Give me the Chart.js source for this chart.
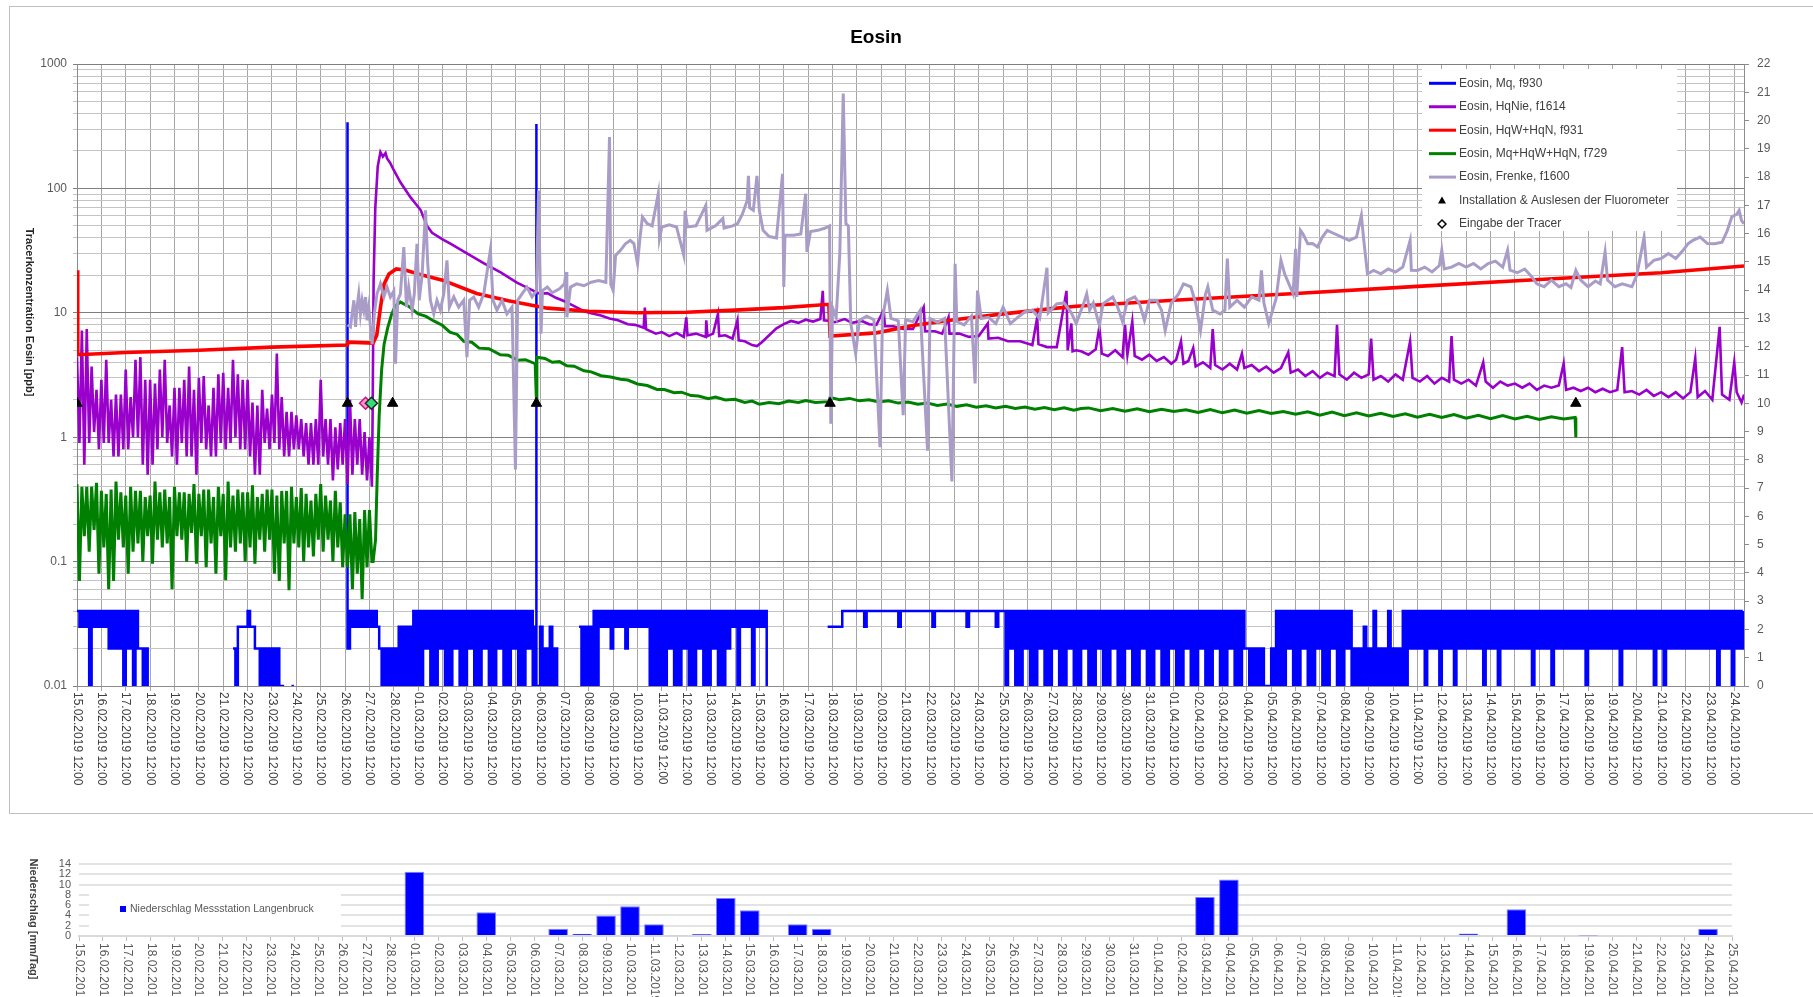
<!DOCTYPE html>
<html>
<head>
<meta charset="utf-8">
<script src="https://cdn.jsdelivr.net/npm/chart.js@4.4.0/dist/chart.umd.min.js"></script>
<style>
  html, body { margin: 0; padding: 0; background: #fff; }
  body { width: 1813px; height: 997px; position: relative; overflow: hidden; }
  #frame { position: absolute; left: 9px; top: 6px; width: 1810px; height: 806px; border: 1px solid #bfbfbf; }
  #mainChart { position: absolute; left: 0; top: 0; }
  #rainChart { position: absolute; left: 0; top: 840px; }
</style>
</head>
<body>
<div id="frame"></div>
<canvas id="mainChart" width="1813" height="820"></canvas>
<canvas id="rainChart" width="1813" height="157"></canvas>
<script>
// day labels, 15.02.2019 .. 25.04.2019 (x = days after 15.02.2019 12:00)
const dayNames = ['15.02','16.02','17.02','18.02','19.02','20.02','21.02','22.02','23.02','24.02','25.02','26.02','27.02','28.02',
  '01.03','02.03','03.03','04.03','05.03','06.03','07.03','08.03','09.03','10.03','11.03','12.03','13.03','14.03','15.03','16.03',
  '17.03','18.03','19.03','20.03','21.03','22.03','23.03','24.03','25.03','26.03','27.03','28.03','29.03','30.03','31.03',
  '01.04','02.04','03.04','04.04','05.04','06.04','07.04','08.04','09.04','10.04','11.04','12.04','13.04','14.04','15.04',
  '16.04','17.04','18.04','19.04','20.04','21.04','22.04','23.04','24.04','25.04'];

// daily rain, mm/Tag (one per dayNames entry)
const rainMm = [0,0,0,0,0,0,0,0,0,0,0,0,0,0,
  12.5,0,0,4.6,0,0,1.4,0.45,4.0,5.8,2.3,0.15,0.4,7.4,5.0,0,2.3,1.4,
  0,0,0,0,0,0,0,0,0,0,0,0,0,0,0,
  7.6,11.0,0,0,0,0,0,0,0,0,0,0.5,0,5.2,0,0,0.12,0,0,0,0,1.4,0];

// Eosin Mq f930: per 0.2 d the high and low reading in 0.01 ppb (43 = 0.04/0.03, 0 = no signal)
const mqStep = 0.2;
const mqBands = [
  43,43,41,43,43, 43,42,42,42,41, 42,41,42,21,21, 0,0,0,0,0, 0,0,0,0,0, 0,0,0,0,0, 0,0,21,33,33, 43,32,21,21,21,
  21,21,11,0,11, 0,0,0,0,0, 0,0,0,0,0, 0,43,43,43,43, 43,43,21,21,21, 21,31,31,31,41, 41,42,41,41,42, 41,41,42,41,41,
  42,41,41,42,41, 41,42,41,41,42, 41,41,42,41,31, 31,21,31,21,0, 0,0,0,31,31, 31,41,43,43,42, 43,43,42,43,43,
  43,43,41,41,41, 41,42,41,41,42, 41,41,42,41,41, 42,41,41,42,43, 41,43,43,41,43, 43,41,0,0,0, 0,0,0,0,0,
  0,0,0,0,33, 33,33,44,44,44, 44,43,44,44,44, 44,44,44,43,44, 44,44,44,44,44, 43,44,44,44,44, 44,44,43,44,44,
  44,44,44,43,44, 41,42,41,41,42, 41,41,42,41,41, 42,41,41,42,41, 41,42,41,41,42, 41,41,42,41,41, 42,41,41,42,41,
  41,42,41,41,42, 41,41,42,41,41, 42,41,41,42,41, 41,42,41,41,42, 21,21,21,21,11, 21,41,41,42,41, 41,42,41,41,42,
  41,41,42,41,41, 42,41,21,21,31, 21,41,21,21,41, 21,21,41,42,42, 42,41,42,42,41, 42,42,41,42,42, 42,42,42,41,42,
  42,41,42,42,42, 42,42,42,41,42, 42,42,41,42,42, 42,42,42,42,41, 42,42,42,42,42, 42,41,42,42,42, 42,42,42,41,42,
  41,42,42,42,42, 42,42,42,42,42, 42,41,42,42,41, 42,42,42];
// [day, peak ppb, level after (0.01 ppb)]
const mqSpikes = [[11.1, 340, 2], [18.85, 330, 1]];

// Eosin HqNie f1614 before the tracer input: per 0.2 d [high, low] ppb
const bandStep = 0.2;
const hqNieEarly = [[4.4,0.9],[7.2,0.6],[7.4,0.9],[3.7,1.1],[2.4,0.8],[2.9,0.9],[4.2,0.9],[2.0,0.7],[2.2,0.7],[2.2,0.8],
  [3.5,0.8],[2.1,1.0],[4.2,1.0],[4.4,0.6],[2.9,0.5],[2.9,0.6],[2.7,0.8],[3.5,1.0],[4.2,0.9],[1.8,0.7],
  [2.5,0.6],[2.5,0.9],[2.9,0.7],[3.7,0.7],[2.4,0.5],[3.0,0.9],[3.1,0.8],[1.8,0.7],[2.5,0.7],[3.2,0.9],
  [3.3,0.8],[2.5,0.9],[4.2,1.0],[3.2,0.8],[2.9,0.8],[2.9,0.7],[1.9,0.5],[1.8,0.5],[2.4,0.9],[1.7,0.8],
  [2.2,0.9],[4.7,0.8],[2.1,0.7],[1.6,0.7],[1.6,0.8],[1.5,0.8],[1.4,0.7],[1.3,0.6],[1.3,0.6],[1.4,0.6],
  [2.9,0.7],[1.4,0.6],[1.4,0.45],[1.2,0.55],[1.3,0.6],[1.4,0.42],[2.0,0.5],[1.4,0.6],[1.4,0.5],[1.1,0.45],[1.0,0.40]];
// Eosin HqNie f1614 from the rise on [day, ppb]
const hqNie = [[12.13,1.55],[12.17,18],[12.24,70],[12.34,150],[12.45,196],[12.55,180],
  [12.66,192],[12.72,175],[12.85,160],[13.0,140],[13.27,112],[13.68,85],[14.1,67],[14.36,50],[14.57,44],[15.0,39],
  [15.32,36],[16.0,30],[16.7,25],[17.4,21],[18.05,17.5],[18.74,15],[19.0,14.2],[19.3,14.4],[19.65,13.2],[20.0,12.4],
  [20.4,11.3],[20.8,10.3],[21.1,9.9],[21.5,9.5],[21.85,9.0],[22.2,8.7],[22.6,8.1],[22.9,8.0],[23.25,7.6],[23.3,11.0],
  [23.35,7.4],[23.75,6.8],[24.0,7.0],[24.3,6.5],[24.6,6.9],[24.9,6.4],[25.0,9.2],[25.05,6.6],[25.4,6.8],[25.8,6.4],
  [25.82,8.7],[25.87,6.5],[26.1,6.8],[26.3,9.8],[26.35,6.5],[26.6,6.6],[26.9,6.2],[27.1,8.7],[27.15,6.0],[27.4,5.9],
  [27.7,5.5],[27.9,5.4],[28.1,5.8],[28.4,6.6],[28.7,7.5],[29.0,8.1],[29.3,8.6],[29.6,8.3],[29.9,8.8],[30.2,8.5],
  [30.5,8.9],[30.6,15],[30.65,8.7],[30.9,8.6],[31.1,8.4],[31.5,8.9],[31.8,8.3],[32.2,8.6],[32.5,8.1],[32.8,8.0],
  [33.1,10.5],[33.15,7.8],[33.5,7.8],[33.9,7.4],[34.3,7.4],[34.74,11.1],[34.8,7.1],[35.2,7.1],[35.5,6.8],[35.76,9.2],
  [35.8,6.8],[36.2,6.8],[36.6,6.4],[37.0,6.5],[37.37,8.2],[37.4,6.2],[37.8,6.3],[38.2,5.9],[38.7,5.9],[39.2,5.5],
  [39.4,9.2],[39.45,5.6],[39.8,5.3],[40.2,5.3],[40.6,15],[40.65,5.0],[40.8,8.2],[40.85,4.9],[41.0,5.0],[41.2,4.9],
  [41.5,4.6],[41.8,5.1],[41.95,7.7],[42.05,4.7],[42.3,4.5],[42.6,5.0],[42.9,4.4],[43.0,8.0],[43.1,4.6],[43.3,8.5],
  [43.4,4.5],[43.7,4.2],[44.0,4.6],[44.3,4.1],[44.6,4.4],[44.9,3.9],[45.1,4.2],[45.3,5.9],[45.4,3.9],[45.6,4.1],
  [45.8,5.2],[45.9,3.7],[46.2,4.0],[46.5,3.6],[46.6,7.4],[46.7,3.8],[47.0,3.5],[47.3,3.9],[47.6,3.5],[47.8,4.7],
  [47.9,3.6],[48.2,3.8],[48.5,3.4],[48.8,3.7],[49.1,3.3],[49.4,3.6],[49.7,4.8],[49.8,3.3],[50.1,3.5],[50.4,3.1],
  [50.7,3.4],[51.0,3.0],[51.3,3.3],[51.6,3.1],[51.7,8.0],[51.8,3.2],[52.1,2.9],[52.4,3.3],[52.7,3.0],[53.0,3.2],
  [53.1,6.2],[53.2,2.9],[53.5,3.1],[53.8,2.8],[54.1,3.2],[54.4,2.9],[54.7,5.9],[54.8,3.0],[55.1,2.8],[55.4,3.1],
  [55.7,2.7],[56.0,3.0],[56.3,2.8],[56.4,6.5],[56.5,2.9],[56.8,2.7],[57.1,2.9],[57.4,2.6],[57.7,4.0],[57.8,2.8],
  [58.1,2.5],[58.4,2.8],[58.7,2.6],[59.0,2.7],[59.3,2.5],[59.6,2.7],[59.9,2.4],[60.2,2.6],[60.5,2.5],[60.8,2.6],
  [61.0,3.9],[61.1,2.4],[61.4,2.5],[61.7,2.35],[62.0,2.5],[62.3,2.3],[62.6,2.45],[62.9,2.3],[63.2,2.4],[63.4,5.3],
  [63.5,2.3],[63.8,2.35],[64.1,2.2],[64.4,2.4],[64.7,2.15],[65.0,2.3],[65.3,2.1],[65.6,2.3],[65.9,2.05],[66.2,2.3],
  [66.4,4.3],[66.5,2.1],[66.8,2.35],[67.1,2.0],[67.4,7.7],[67.5,2.2],[67.8,2.0],[68.0,4.0],[68.1,2.3],[68.3,1.9],[68.4,2.2]];

// Eosin HqW+HqN f931 [day, ppb]
const hqWHqN = [[0,22],[0.03,4.6],[2,4.8],[5,5.0],[8,5.3],[11.1,5.5],[11.12,5.8],[12.15,5.7],[12.3,6.6],[12.45,11],
  [12.6,17],[12.8,20.5],[13.1,22.5],[13.5,22],[14.0,20.5],[15.0,18.3],[16.4,14.3],[17.7,12.5],[19.3,10.9],[21,10.3],
  [23,10.0],[25,10.1],[27,10.5],[29,11.0],[30.85,11.7],[30.9,6.5],[32.8,6.9],[34.3,7.9],[36,8.8],[38,9.8],
  [40,10.8],[41,11.3],[45,12.6],[50,14.3],[55,16.3],[60,18.5],[65,21.0],[68.4,23.8]];

// Eosin Mq+HqW+HqN f729 before the tracer input: per 0.2 d [high, low] ppb
const mqHqWHqNEarly = [[0.42,0.07],[0.40,0.16],[0.40,0.12],[0.40,0.18],[0.43,0.08],[0.37,0.13],[0.35,0.06],[0.38,0.07],[0.44,0.15],[0.36,0.13],
  [0.34,0.08],[0.40,0.12],[0.37,0.14],[0.37,0.10],[0.33,0.16],[0.34,0.096],[0.44,0.15],[0.36,0.13],[0.38,0.14],[0.33,0.06],
  [0.40,0.16],[0.36,0.15],[0.36,0.10],[0.35,0.17],[0.42,0.096],[0.35,0.16],[0.38,0.09],[0.38,0.14],[0.33,0.08],[0.40,0.16],
  [0.35,0.071],[0.44,0.13],[0.34,0.12],[0.38,0.14],[0.36,0.10],[0.36,0.13],[0.41,0.096],[0.33,0.15],[0.35,0.12],[0.38,0.15],
  [0.38,0.08],[0.34,0.07],[0.37,0.14],[0.37,0.059],[0.40,0.14],[0.33,0.13],[0.39,0.10],[0.35,0.13],[0.31,0.11],[0.35,0.15],
  [0.42,0.12],[0.34,0.15],[0.31,0.10],[0.37,0.13],[0.30,0.09],[0.24,0.09],[0.24,0.06],[0.25,0.08],[0.22,0.05],[0.26,0.09],[0.26,0.10]];
// Eosin Mq+HqW+HqN f729 from the rise on [day, ppb]
const mqHqWHqN = [[12.15,0.10],[12.25,0.15],[12.32,0.5],
  [12.4,1.5],[12.5,3.5],[12.6,5.6],[12.75,7.6],[12.9,9.6],[13.05,11.3],[13.27,12.2],[13.6,11.3],[14.0,9.8],[14.3,9.4],
  [14.64,8.6],[15.0,7.9],[15.3,7.0],[15.6,6.7],[15.87,5.9],[16.2,5.8],[16.5,5.2],[16.9,5.15],[17.37,4.6],[17.7,4.55],
  [18.1,4.15],[18.4,4.2],[18.8,3.9],[18.85,2.0],[18.87,4.4],[19.2,4.3],[19.5,4.0],[19.8,4.05],[20.1,3.75],[20.4,3.72],
  [20.8,3.42],[21.1,3.35],[21.5,3.12],[21.9,3.05],[22.3,2.92],[22.6,2.88],[23.0,2.68],[23.4,2.6],[23.8,2.42],[24.1,2.42],
  [24.5,2.28],[24.8,2.3],[25.2,2.16],[25.5,2.14],[25.9,2.04],[26.2,2.1],[26.6,1.99],[27.0,2.02],[27.4,1.9],[27.7,1.95],
  [28.0,1.84],[28.4,1.9],[28.8,1.86],[29.2,1.95],[29.6,1.9],[29.9,1.97],[30.3,1.9],[30.85,1.93],[30.9,2.08],[31.3,2.0],
  [31.7,2.05],[32.1,1.96],[32.5,2.0],[32.9,1.92],[33.3,1.96],[33.7,1.88],[34.1,1.92],[34.5,1.84],[34.9,1.88],[35.3,1.8],
  [35.7,1.85],[36.1,1.77],[36.5,1.82],[36.9,1.74],[37.3,1.79],[37.7,1.72],[38.1,1.77],[38.5,1.7],[38.9,1.75],[39.3,1.68],
  [39.7,1.73],[40.1,1.66],[40.5,1.72],[40.9,1.65],[41.2,1.7],[41.5,1.72],[42,1.63],[42.5,1.70],[43,1.62],[43.5,1.69],
  [44,1.60],[44.5,1.68],[45,1.61],[45.5,1.66],[46,1.58],[46.5,1.67],[47,1.57],[47.5,1.65],[48,1.56],[48.5,1.64],
  [49,1.55],[49.5,1.61],[50,1.53],[50.5,1.60],[51,1.50],[51.5,1.59],[52,1.49],[52.5,1.57],[53,1.48],[53.5,1.56],
  [54,1.47],[54.5,1.54],[55,1.45],[55.5,1.53],[56,1.44],[56.5,1.52],[57,1.42],[57.5,1.50],[58,1.41],[58.5,1.49],
  [59,1.40],[59.5,1.47],[60,1.39],[60.5,1.46],[61,1.40],[61.47,1.44],[61.5,1.0]];

// Eosin Frenke f1600 [day, ppb]
const frenke = [[11.1,8.0],[11.22,7.7],[11.36,12.6],[11.43,7.7],[11.49,11.1],[11.56,14.2],[11.63,9.8],[11.7,12.6],[11.77,10.5],[11.84,13.4],
  [11.9,8.7],[11.97,11.1],[12.04,7.7],[12.11,5.6],[12.2,9.8],[12.31,14.2],[12.45,17.1],[12.59,13.4],[12.72,16.1],[12.86,13.4],
  [13.0,15.0],[13.07,3.9],[13.16,12.6],[13.27,14.2],[13.41,33.8],[13.52,11.1],[13.61,16.1],[13.75,10.5],[13.84,14.2],[13.95,35.9],
  [14.04,12.6],[14.16,20],[14.3,66.6],[14.39,25],[14.5,12.6],[14.64,9.8],[14.77,12.6],[14.91,10.5],[15.05,14.2],[15.18,26.4],
  [15.28,11.1],[15.46,13.4],[15.66,11.1],[15.87,12.6],[16.0,4.4],[16.11,12.6],[16.28,13.4],[16.48,11.1],[16.69,14.2],[16.96,31.8],
  [17.07,12.6],[17.23,10.5],[17.44,12.6],[17.64,9.8],[17.85,11.1],[17.99,0.55],[18.08,12.6],[18.26,14.2],[18.46,16.1],[18.67,13.4],
  [18.85,15],[18.94,96],[19.04,6.8],[19.1,15.1],[19.3,16.1],[19.5,14.5],[19.8,15.6],[20.0,17.1],[20.07,21.3],[20.1,9.2],
  [20.25,16.1],[20.5,17.1],[20.8,16.5],[21.1,17.6],[21.4,18.2],[21.7,17.6],[21.85,259],[21.9,17],[22.0,15.1],[22.1,28.9],
  [22.3,31.8],[22.5,35.9],[22.7,38.2],[22.85,36],[23.0,24.8],[23.1,40],[23.2,58.9],[23.4,52],[23.6,50],[23.85,90.6],
  [23.9,39.4],[24.0,49],[24.3,51],[24.6,49],[24.9,28.9],[24.95,66],[25.05,49],[25.4,50],[25.8,73],[25.85,46],
  [26.2,50],[26.5,57.2],[26.55,48],[26.9,50],[27.1,52],[27.3,62],[27.5,80],[27.55,126],[27.6,70],[27.75,66.6],
  [27.9,126],[28.0,66],[28.15,46],[28.4,41],[28.7,40],[28.95,131],[29.0,16.1],[29.05,42],[29.4,42],[29.7,43],
  [29.9,90.6],[29.95,30.8],[30.1,45],[30.4,46],[30.7,48],[30.88,50],[30.93,1.28],[31.0,11],[31.15,9.2],[31.3,30],
  [31.44,580],[31.55,52],[31.65,50],[31.75,8.2],[31.95,4.7],[32.1,8.7],[32.4,9.4],[32.7,8.8],[32.95,0.83],[33.05,9.0],
  [33.25,15.1],[33.4,9.0],[33.7,8.6],[33.9,1.5],[34.0,8.8],[34.3,8.5],[34.6,10.5],[34.9,0.78],[35.0,9.0],[35.3,8.4],
  [35.6,9.0],[35.9,0.44],[36.03,24.8],[36.1,8.5],[36.4,8.0],[36.7,9.4],[36.85,2.7],[36.95,15.1],[37.1,9.0],[37.4,9.2],
  [37.7,8.2],[38.0,11.1],[38.3,8.2],[38.6,9.2],[38.9,10.2],[39.2,10.5],[39.5,9.0],[39.8,23],[39.85,10],[40.2,11.8],
  [40.5,12],[40.8,10],[41.0,8.2],[41.3,11.8],[41.43,14.2],[41.55,10.5],[41.7,12],[41.95,7.9],[42.1,11.8],[42.3,12.6],
  [42.5,13.4],[42.7,11.1],[42.9,8.5],[43.1,12.6],[43.4,13.4],[43.6,11.8],[43.8,8.7],[44.0,12.6],[44.3,12.6],[44.5,10.5],
  [44.65,7.2],[44.9,12],[45.2,14.2],[45.4,17.1],[45.7,16.2],[45.9,12],[46.1,7.2],[46.3,14],[46.4,16.2],[46.6,10.5],
  [46.9,9.8],[47.1,10.5],[47.2,27.3],[47.3,11.1],[47.6,12.6],[47.9,11.1],[48.2,13.4],[48.5,12.6],[48.6,21.9],[48.7,12],
  [48.9,8.2],[49.2,13],[49.4,26.4],[49.55,20.6],[49.9,14.2],[50.0,32.7],[50.05,13.4],[50.2,46],[50.3,43.2],[50.5,35.9],
  [50.7,36],[50.9,33.8],[51.1,40.6],[51.3,46],[51.6,43.2],[51.9,40.6],[52.2,38.2],[52.5,40.6],[52.7,60.7],[52.8,38],
  [52.95,20.6],[53.2,21.9],[53.5,20.6],[53.8,22.5],[54.1,21.3],[54.4,23.3],[54.7,38.2],[54.75,22],[55.0,21.9],[55.3,23.3],
  [55.6,21.3],[55.9,24],[56.0,31.8],[56.1,22.5],[56.4,23.3],[56.7,24.9],[57.0,23.3],[57.3,24.9],[57.6,22.5],[57.9,24.9],
  [58.2,26],[58.5,23.3],[58.7,31.8],[58.8,22],[59.1,21],[59.4,22.5],[59.7,19.4],[59.9,17.1],[60.2,16.2],[60.5,18.3],
  [60.8,16.2],[61.1,17.1],[61.3,16],[61.5,21.9],[61.7,18.3],[62.0,16.2],[62.3,18],[62.5,17.1],[62.7,30.8],[62.8,18.3],
  [63.1,16.2],[63.4,17.1],[63.8,16.2],[64.0,20],[64.3,40.6],[64.4,23.3],[64.7,26.4],[65.0,27.3],[65.3,29.9],[65.6,27.3],
  [65.9,31.8],[66.1,35.9],[66.3,38.2],[66.6,40.6],[66.9,36],[67.2,35.9],[67.5,37],[67.7,45],[67.9,59],[68.1,62],
  [68.2,66.6],[68.3,55],[68.4,52]];

// events, plotted on the right axis at level 10
const installDays = [0, 11.1, 12.95, 18.85, 30.9, 61.5];
const tracerDays = [11.84, 12.08];
const markerLevel = 10;

const ppbDecades = [0.01, 0.1, 1, 10, 100, 1000];

const FONT = '"Liberation Sans", Arial, sans-serif';
Chart.defaults.font.family = FONT;

function toPoints(pairs) {
  return pairs.map(p => ({ x: p[0], y: p[1] }));
}

// [high, low] per bin -> two points inside each bin
function bandPoints(bands, step) {
  var pts = [];
  bands.forEach((b, i) => {
    pts.push({ x: Math.round(i * step * 100) / 100, y: b[0] });
    pts.push({ x: Math.round((i + 0.5) * step * 100) / 100, y: b[1] });
  });
  return pts;
}

// Mq points: high/low reading per bin plus the two short peaks
var mqPoints = [];
mqBands.forEach((code, i) => {
  const hi = Math.floor(code / 10), lo = code % 10;
  mqPoints.push({ x: Math.round(i * mqStep * 100) / 100, y: code ? hi / 100 : null });
  mqPoints.push({ x: Math.round((i + 0.5) * mqStep * 100) / 100, y: code ? lo / 100 : null });
});
mqSpikes.forEach(s => {
  mqPoints.push({ x: s[0], y: s[1] });
  mqPoints.push({ x: s[0], y: s[2] / 100 });
});
mqPoints.sort((a, b) => a.x - b.x);

function isDecade(v) {
  return ppbDecades.some(d => Math.abs(v / d - 1) < 1e-6);
}

// minor log grid: 1..9 per decade
var logTicks = [];
ppbDecades.slice(0, -1).forEach(d => {
  for (var m = 1; m <= 9; m++) logTicks.push(Math.round(d * m * 1e6) / 1e6);
});
logTicks.push(1000);

const upperDecor = {
  id: 'upperDecor',
  afterDraw(chart) {
    const ctx = chart.ctx;
    const area = chart.chartArea;
    const xs = chart.scales.x;
    ctx.save();

    // title
    ctx.fillStyle = '#000';
    ctx.font = 'bold 19px ' + FONT;
    ctx.textAlign = 'center';
    ctx.textBaseline = 'middle';
    ctx.fillText('Eosin', 876, 38);

    // left axis title, reads top to bottom
    ctx.save();
    ctx.translate(29, 312);
    ctx.rotate(Math.PI / 2);
    ctx.font = 'bold 11px ' + FONT;
    ctx.fillStyle = '#262626';
    ctx.fillText('Tracerkonzentration Eosin [ppb]', 0, 0);
    ctx.restore();

    // date labels, turned clockwise
    ctx.font = '12px ' + FONT;
    ctx.fillStyle = '#404040';
    ctx.textAlign = 'left';
    for (var i = 0; i <= 68; i++) {
      ctx.save();
      ctx.translate(xs.getPixelForValue(i), area.bottom + 6);
      ctx.rotate(Math.PI / 2);
      ctx.fillText(dayNames[i] + '.2019 12:00', 0, 0);
      ctx.restore();
    }

    // legend box
    ctx.fillStyle = '#fff';
    ctx.fillRect(1422, 69, 255, 162);
    chart.data.datasets.forEach((ds, i) => {
      const y = 83.3 + i * 23.45;
      if (i < 5) {
        ctx.strokeStyle = ds.borderColor;
        ctx.lineWidth = 3;
        ctx.beginPath();
        ctx.moveTo(1429, y);
        ctx.lineTo(1456, y);
        ctx.stroke();
      } else if (i === 5) {
        ctx.fillStyle = '#000';
        ctx.beginPath();
        ctx.moveTo(1442, y - 4);
        ctx.lineTo(1446, y + 3);
        ctx.lineTo(1438, y + 3);
        ctx.closePath();
        ctx.fill();
      } else {
        ctx.fillStyle = '#fff';
        ctx.strokeStyle = '#000';
        ctx.lineWidth = 1.5;
        ctx.beginPath();
        ctx.moveTo(1442, y - 4);
        ctx.lineTo(1446, y);
        ctx.lineTo(1442, y + 4);
        ctx.lineTo(1438, y);
        ctx.closePath();
        ctx.fill();
        ctx.stroke();
      }
      ctx.fillStyle = '#404040';
      ctx.font = '12px ' + FONT;
      ctx.textAlign = 'left';
      ctx.textBaseline = 'middle';
      ctx.fillText(ds.label, 1459, y);
    });
    ctx.restore();
  }
};

new Chart(document.getElementById('mainChart').getContext('2d'), {
  type: 'line',
  data: {
    datasets: [
      { label: 'Eosin, Mq, f930', data: mqPoints, borderColor: '#0000ff', borderWidth: 2.5, stepped: true, order: 5 },
      { label: 'Eosin, HqNie, f1614', data: bandPoints(hqNieEarly, bandStep).concat(toPoints(hqNie)), borderColor: '#9900cc', borderWidth: 2.6, order: 4 },
      { label: 'Eosin, HqW+HqN, f931', data: toPoints(hqWHqN), borderColor: '#ff0000', borderWidth: 3.6, order: 3 },
      { label: 'Eosin, Mq+HqW+HqN, f729', data: bandPoints(mqHqWHqNEarly, bandStep).concat(toPoints(mqHqWHqN)), borderColor: '#008000', borderWidth: 3, order: 2 },
      { label: 'Eosin, Frenke, f1600', data: toPoints(frenke), borderColor: '#a99dc8', borderWidth: 3, order: 1 },
      {
        label: 'Installation & Auslesen der Fluorometer', yAxisID: 'y2', showLine: false, order: 0,
        data: installDays.map(d => ({ x: d, y: markerLevel })),
        pointStyle: 'triangle', pointRadius: 6, pointBackgroundColor: '#000', pointBorderColor: '#000', borderColor: '#000'
      },
      {
        label: 'Eingabe der Tracer', yAxisID: 'y2', showLine: false, order: 0,
        data: tracerDays.map(d => ({ x: d, y: markerLevel })),
        pointStyle: 'rectRot', pointRadius: 6, pointBorderWidth: 1.5,
        pointBackgroundColor: ['#ff8fd0', '#33dd77'], pointBorderColor: ['#c2187a', '#222'], borderColor: '#000'
      }
    ]
  },
  options: {
    responsive: false,
    animation: false,
    spanGaps: false,
    elements: { point: { radius: 0, hoverRadius: 0 }, line: { tension: 0 } },
    layout: { padding: { top: 64, left: 0, right: 0, bottom: 0 } },
    plugins: { legend: { display: false }, title: { display: false }, tooltip: { enabled: false } },
    events: [],
    scales: {
      x: {
        type: 'linear', min: 0, max: 68.4,
        ticks: { stepSize: 1, display: false, includeBounds: false },
        grid: { color: '#a6a6a6', tickLength: 5 },
        border: { color: '#8c8c8c' },
        afterFit: s => { s.height = 134; }
      },
      y: {
        type: 'logarithmic', position: 'left', min: 0.01, max: 1000,
        afterBuildTicks: s => { s.ticks = logTicks.map(v => ({ value: v, major: isDecade(v) })); },
        ticks: {
          autoSkip: false, color: '#595959', font: { size: 12 }, padding: 6,
          callback: v => isDecade(v) ? String(v) : ''
        },
        grid: { color: c => (c.tick && isDecade(c.tick.value)) ? '#7f7f7f' : '#c4c4c4', tickLength: 4 },
        border: { color: '#8c8c8c' },
        afterFit: s => { s.width = 77; }
      },
      y2: {
        type: 'linear', position: 'right', min: 0, max: 22,
        ticks: { stepSize: 1, color: '#595959', font: { size: 12 }, padding: 8, autoSkip: false },
        grid: { drawOnChartArea: false, tickLength: 5, color: '#8c8c8c' },
        border: { color: '#8c8c8c' },
        afterFit: s => { s.width = 69; }
      }
    }
  },
  plugins: [upperDecor]
});

// precipitation chart
const rainDecor = {
  id: 'rainDecor',
  afterDraw(chart) {
    const ctx = chart.ctx;
    const area = chart.chartArea;
    const xs = chart.scales.x;
    ctx.save();
    ctx.font = '12px ' + FONT;
    ctx.fillStyle = '#595959';
    ctx.textAlign = 'left';
    ctx.textBaseline = 'middle';
    dayNames.forEach((n, i) => {
      ctx.save();
      ctx.translate(xs.getPixelForValue(i), area.bottom + 7);
      ctx.rotate(Math.PI / 2);
      ctx.fillText(n + '.2019', 0, 0);
      ctx.restore();
    });

    ctx.save();
    ctx.translate(33, 79);
    ctx.rotate(Math.PI / 2);
    ctx.font = 'bold 11px ' + FONT;
    ctx.fillStyle = '#404040';
    ctx.textAlign = 'center';
    ctx.fillText('Niederschlag [mm/Tag]', 0, 0);
    ctx.restore();

    // legend
    ctx.fillStyle = '#fff';
    ctx.fillRect(89, 50, 252, 40);
    ctx.fillStyle = '#0000ff';
    ctx.fillRect(120, 66, 6, 6);
    ctx.fillStyle = '#595959';
    ctx.font = '10.5px ' + FONT;
    ctx.fillText(chart.data.datasets[0].label, 130, 69);
    ctx.restore();
  }
};

new Chart(document.getElementById('rainChart').getContext('2d'), {
  type: 'bar',
  data: {
    labels: dayNames,
    datasets: [{
      label: 'Niederschlag Messstation Langenbruck',
      data: rainMm,
      backgroundColor: '#0000ff', borderColor: '#7f7fff', borderWidth: 1,
      barPercentage: 0.82, categoryPercentage: 1
    }]
  },
  options: {
    responsive: false,
    animation: false,
    events: [],
    layout: { padding: { top: 24, left: 0, right: 81, bottom: 0 } },
    plugins: { legend: { display: false }, title: { display: false }, tooltip: { enabled: false } },
    scales: {
      x: {
        type: 'category', offset: false,
        ticks: { display: false, autoSkip: false },
        grid: { offset: false, drawOnChartArea: false, tickLength: 5, color: '#bfbfbf' },
        border: { color: '#d9d9d9', width: 2 },
        afterFit: s => { s.height = 61; }
      },
      y: {
        min: 0, max: 14,
        ticks: { stepSize: 2, color: '#595959', font: { size: 11 }, padding: 8, autoSkip: false },
        grid: { color: '#e3e3e3', lineWidth: 2, drawTicks: false },
        border: { display: false },
        afterFit: s => { s.width = 79; }
      }
    }
  },
  plugins: [rainDecor]
});
</script>
</body>
</html>
